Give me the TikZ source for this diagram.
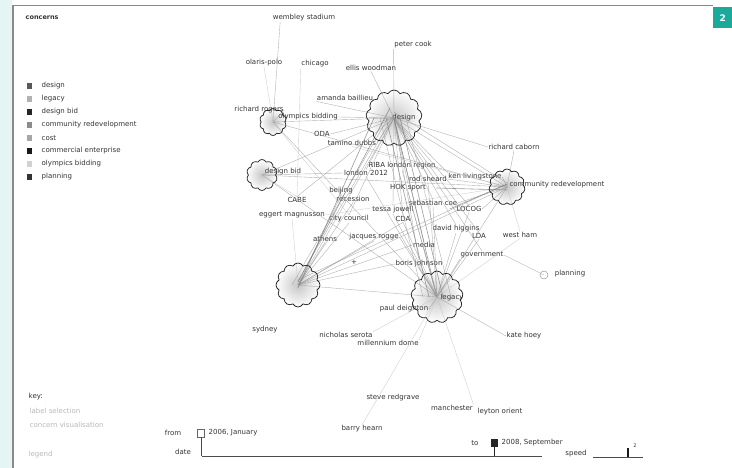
\documentclass[tikz,border=0pt]{standalone}
\usepackage{fontspec}
\setmainfont{DejaVu Sans}
\usetikzlibrary{shapes.symbols}
\definecolor{txt}{HTML}{333333}
\definecolor{faint}{HTML}{B8B8B8}
\definecolor{tealtag}{HTML}{1BA99B}
\definecolor{frame}{HTML}{8A8A8A}
\begin{document}
\begin{tikzpicture}[x=1pt,y=-1pt,
  lbl/.style={font=\fontsize{7}{8}\selectfont, text=txt, inner sep=0.5pt},
  flbl/.style={font=\fontsize{7}{8}\selectfont, text=faint, inner sep=0.5pt, anchor=west},
  leg/.style={font=\fontsize{7}{8}\selectfont, text=txt, inner sep=0.5pt, anchor=west},
  sq/.style={draw=none, minimum size=5.5pt, inner sep=0},
  blob/.style={cloud, cloud puffs=#1, cloud puff arc=125, aspect=1, draw=black!85, line width=0.75pt, inner sep=0},
  blobfill/.style={cloud, cloud puffs=#1, cloud puff arc=125, aspect=1, draw=none, inner sep=0, inner color=black!22, outer color=white, shading=radial},
  ed/.style={draw=black!40, line width=0.4pt, opacity=0.75},
  edl/.style={draw=black!25, line width=0.4pt, opacity=0.7},
  edh/.style={draw=black!55, line width=0.6pt, opacity=0.7}]
\useasboundingbox (0,0) rectangle (732,468);
\fill[white] (0,0) rectangle (732,468);
\fill[tealtag!12] (0,0) rectangle (12,468);
% frame
\draw[frame, line width=1.6pt] (13,468) -- (13,5.5) -- (713,5.5);
\node[fill=tealtag, text=white, font=\bfseries\fontsize{9}{10}\selectfont, minimum width=19pt, minimum height=21pt, inner sep=0, anchor=north west] (tag) at (713,7) {2};

% legend
\node[lbl, anchor=west, font=\bfseries\fontsize{6.5}{7}\selectfont] (conc) at (25,18) {concerns};
\node[sq, fill=black!65] (s1) at (29.5,86) {};
\node[leg] (t1) at (41,86) {design};
\node[sq, fill=black!30] (s2) at (29.5,99) {};
\node[leg] (t2) at (41,99) {legacy};
\node[sq, fill=black!85] (s3) at (29.5,112) {};
\node[leg] (t3) at (41,112) {design bid};
\node[sq, fill=black!45] (s4) at (29.5,125) {};
\node[leg] (t4) at (41,125) {community redevelopment};
\node[sq, fill=black!35] (s5) at (29.5,138) {};
\node[leg] (t5) at (41,138) {cost};
\node[sq, fill=black!90] (s6) at (29.5,151) {};
\node[leg] (t6) at (41,151) {commercial enterprise};
\node[sq, fill=black!18] (s7) at (29.5,164) {};
\node[leg] (t7) at (41,164) {olympics bidding};
\node[sq, fill=black!80] (s8) at (29.5,177) {};
\node[leg] (t8) at (41,177) {planning};

% bottom-left key
\node[leg] (key) at (28,397) {key:};
\node[flbl] (k1) at (29,411) {label selection};
\node[flbl] (k2) at (29,425) {concern visualisation};
\node[flbl] (k3) at (28,455) {legend};

% clouds (positions)
\coordinate (Dc) at (394,118);
\coordinate (OBc) at (273,122);
\coordinate (DBc) at (262,175);
\coordinate (CRc) at (507,187);
\coordinate (BLc) at (298,285);
\coordinate (LGc) at (437,297);

% cloud shading (behind edges)
\node[blobfill=13, minimum size=56pt] (Df) at (Dc) {};
\node[blobfill=10, minimum size=27pt] (OBf) at (OBc) {};
\node[blobfill=10, minimum size=31pt] (DBf) at (DBc) {};
\node[blobfill=11, minimum size=36pt] (CRf) at (CRc) {};
\node[blobfill=12, minimum size=44pt] (BLf) at (BLc) {};
\node[blobfill=13, minimum size=52pt] (LGf) at (LGc) {};

% labels
\node[lbl] (wem) at (304,18) {wembley stadium};
\node[lbl] (pcook) at (413,45) {peter cook};
\node[lbl] (opolo) at (264,63) {olaris-polo};
\node[lbl] (chi) at (315,64) {chicago};
\node[lbl] (ellis) at (371,68) {ellis woodman};
\node[lbl] (amanda) at (345,98) {amanda baillieu};
\node[lbl] (rrog) at (259,110) {richard rogers};
\node[lbl] (oblbl) at (308,117) {olympics bidding};
\node[lbl] (dlbl) at (404,118) {design};
\node[lbl] (oda) at (322,134) {ODA};
\node[lbl] (tamino) at (352,143) {tamino dubbs};
\node[lbl] (rcab) at (514,147) {richard caborn};
\node[lbl] (riba) at (402,166) {RIBA london region};
\node[lbl] (l2012) at (366,173) {london 2012};
\node[lbl] (dblbl) at (283,172) {design bid};
\node[lbl] (rods) at (428,179) {rod sheard};
\node[lbl] (ken) at (475,177) {ken livingstone};
\node[lbl] (crlbl) at (557,185) {community redevelopment};
\node[lbl] (hok) at (408,188) {HOK sport};
\node[lbl] (beij) at (341,191) {beijing};
\node[lbl] (rec) at (353,199) {recession};
\node[lbl] (cabe) at (297,200) {CABE};
\node[lbl] (coe) at (433,203) {sebastian coe};
\node[lbl] (locog) at (469,209) {LOCOG};
\node[lbl] (tessa) at (393,210) {tessa jowell};
\node[lbl] (egg) at (292,215) {eggert magnusson};
\node[lbl] (city) at (349,219) {city council};
\node[lbl] (cda) at (403,219) {CDA};
\node[lbl] (dhig) at (456,229) {david higgins};
\node[lbl] (lda) at (479,236) {LDA};
\node[lbl] (wham) at (520,235) {west ham};
\node[lbl] (ath) at (325,239) {athens};
\node[lbl] (jacq) at (374,237) {jacques rogge};
\node[lbl] (media) at (424,245) {media};
\node[lbl] (gov) at (482,255) {government};
\node[lbl] (boris) at (419,264) {boris johnson};
\node[lbl] (plus) at (354,262) {+};
\node[lbl] (plbl) at (570,274) {planning};
\node[lbl] (lglbl) at (452,298) {legacy};
\node[lbl] (pdei) at (404,309) {paul deighton};
\node[lbl] (syd) at (265,330) {sydney};
\node[lbl] (nser) at (346,335) {nicholas serota};
\node[lbl] (khoey) at (524,336) {kate hoey};
\node[lbl] (mdome) at (388,343) {millennium dome};
\node[lbl] (sred) at (393,398) {steve redgrave};
\node[lbl] (manc) at (452,408) {manchester};
\node[lbl] (leyo) at (500,412) {leyton orient};
\node[lbl] (bhearn) at (362,429) {barry hearn};

% edges
% design
\draw[ed] (pcook.south west) -- (Dc);
\draw[ed] (ellis.south) -- (Dc);
\draw[ed] (amanda.south west) -- (Dc);
\draw[ed] (oblbl.east) -- (Dc);
\draw[ed] (oda.east) -- (Dc);
\draw[ed] (tamino.east) -- (Dc);
\draw[ed] (riba.north) -- (Dc);
\draw[ed] (l2012.north) -- (Dc);
\draw[ed] (hok.north) -- (Dc);
\draw[ed] (rods.north) -- (Dc);
\draw[ed] (ken.north west) -- (Dc);
\draw[ed] (tessa.north) -- (Dc);
\draw[ed] (cda.north) -- (Dc);
\draw[ed] (media.north) -- (Dc);
\draw[ed] (boris.north) -- (Dc);
\draw[ed] (coe.north) -- (Dc);
\draw[ed] (locog.north) -- (Dc);
\draw[ed] (dhig.north) -- (Dc);
\draw[ed] (lda.north) -- (Dc);
\draw[ed] (gov.north) -- (Dc);
\draw[ed] (city.north) -- (Dc);
\draw[ed] (cabe.north) -- (Dc);
\draw[ed] (rcab.west) -- (Dc);
\draw[edh] (Dc) -- (LGc);
\draw[edh] ([xshift=-8]Dc) -- ([xshift=-8]LGc);
\draw[edh] ([xshift=6]Dc) -- ([xshift=6]LGc);
\draw[ed] ([xshift=-14]Dc) -- ([xshift=-14]LGc);
\draw[ed] ([xshift=12]Dc) -- ([xshift=14]LGc);
\draw[ed] (Dc) -- (BLc);
\draw[ed] ([yshift=4]Dc) -- ([yshift=4]BLc);
\draw[ed] ([xshift=-6]Dc) -- ([xshift=-6]BLc);
\draw[ed] (Dc) -- (CRc);
\draw[ed] ([yshift=6]Dc) -- ([yshift=4]CRc);
% olympics bidding
\draw[ed] (wem.south west) ++(8,0) -- (OBc);
\draw[edl] (opolo.south) -- (OBc);
\draw[ed] (rrog.east) -- (OBc);
\draw[ed] (OBc) -- (Dc);
\draw[ed] (OBc) -- (LGc);
\draw[ed] (OBc) -- (CRc);
\draw[edl] (OBc) -- (city.north);
\draw[edl] (chi.south west) -- (cabe.north);
% design bid
\draw[ed] (DBc) -- (l2012.west);
\draw[ed] (DBc) -- (Dc);
\draw[ed] (DBc) -- (LGc);
\draw[ed] (DBc) -- (CRc);
\draw[edl] (DBc) -- (cabe.north);
% community redevelopment
\draw[ed] (CRc) -- (ken.east);
\draw[ed] (CRc) -- (rods.east);
\draw[ed] (CRc) -- (locog.east);
\draw[ed] (CRc) -- (coe.east);
\draw[ed] (CRc) -- (rcab.south);
\draw[edl] (CRc) -- (wham.north);
\draw[ed] (CRc) -- (BLc);
\draw[ed] ([yshift=3]CRc) -- ([yshift=5]BLc);
\draw[ed] (CRc) -- (LGc);
\draw[edl] (CRc) -- (egg.east);
\draw[edl] (CRc) -- (tamino.south);
\draw[edh] ([yshift=-3]CRc) -- ([xshift=10]hok.east);
\draw[edh] ([yshift=3]CRc) -- ([xshift=-6]locog.west);
% bottom-left
\draw[ed] (BLc) -- (ath.south);
\draw[ed] (BLc) -- (jacq.south);
\draw[ed] (BLc) -- (city.south);
\draw[ed] (BLc) -- (beij.south);
\draw[ed] (BLc) -- (rec.south);
\draw[edl] (BLc) -- (egg.south);
\draw[ed] (BLc) -- (LGc);
\draw[ed] (BLc) -- (media.west);
\draw[ed] (BLc) -- (cda.south);
\draw[ed] (BLc) -- (boris.west);
\draw[edh] ([yshift=-3]BLc) -- ([xshift=-20]Dc);
\draw[edh] ([yshift=3]BLc) -- ([xshift=-4,yshift=10]Dc);
% legacy
\draw[ed] (LGc) -- (boris.south);
\draw[ed] (LGc) -- (pdei.east);
\draw[ed] (LGc) -- (gov.south west);
\draw[ed] (LGc) -- (media.south);
\draw[ed] (LGc) -- (khoey.west);
\draw[edl] (LGc) -- (bhearn.north);
\draw[edl] (LGc) -- (manc.north east);
\draw[edl] (LGc) -- (nser.north east);
\draw[edl] (LGc) -- (mdome.north east);
\draw[ed] (LGc) -- (dhig.south);
\draw[ed] (LGc) -- (lda.south);
\draw[ed] (LGc) -- (cda.south);
\draw[ed] (LGc) -- (tessa.south);
\draw[ed] (LGc) -- (coe.south);
\draw[ed] (LGc) -- (locog.south);
\draw[ed] (LGc) -- (rods.south);
\draw[ed] (LGc) -- (hok.south);
\draw[ed] (LGc) -- (riba.south);
\draw[ed] (LGc) -- (l2012.south);
\draw[ed] (LGc) -- (jacq.east);
\draw[edl] (LGc) -- (wham.south);
% planning
\coordinate (plc) at (544,275);
\draw[ed] (gov.east) -- (plc);

% cloud outlines
\node[blob=13, minimum size=56pt] (D) at (Dc) {};
\node[blob=10, minimum size=27pt] (OB) at (OBc) {};
\node[blob=10, minimum size=31pt] (DB) at (DBc) {};
\node[blob=11, minimum size=36pt] (CR) at (CRc) {};
\node[blob=12, minimum size=44pt] (BL) at (BLc) {};
\node[blob=13, minimum size=52pt] (LG) at (LGc) {};
\node[circle, draw=black!40, line width=0.5pt, minimum size=8pt, inner sep=0] (PL) at (plc) {};

% timeline
\coordinate (tl0) at (202,456);
\coordinate (tl1) at (542,456);
\draw[black!70, line width=0.6pt] (tl0) -- (tl1);
\node[lbl] (from) at (173,433) {from};
\node[draw=black!60, line width=0.5pt, minimum width=7pt, minimum height=8pt, inner sep=0] (fb) at (201,433) {};
\draw[black!70, line width=0.5pt] (fb.south) -- (fb.south |- tl0);
\node[lbl, anchor=west] (fdate) at (208,433) {2006, January};
\node[lbl] (date) at (183,452) {date};
\node[lbl] (to) at (475,443) {to};
\node[fill=black!85, minimum width=7pt, minimum height=8pt, inner sep=0] (tb) at (494,443) {};
\draw[black!85, line width=0.8pt] (tb.south) -- (tb.south |- tl0);
\node[lbl, anchor=west] (tdate) at (501,443) {2008, September};
\node[lbl] (speed) at (576,454) {speed};
\coordinate (sp0) at (593,457);
\coordinate (sp1) at (643,457);
\draw[black!70, line width=0.6pt] (sp0) -- (sp1);
\coordinate (spm) at (628,448);
\draw[black!90, line width=1.3pt] (spm) -- (spm |- sp0);
\node[lbl, font=\fontsize{5}{6}\selectfont] (sp2) at (635,446) {2};
\end{tikzpicture}
\end{document}
